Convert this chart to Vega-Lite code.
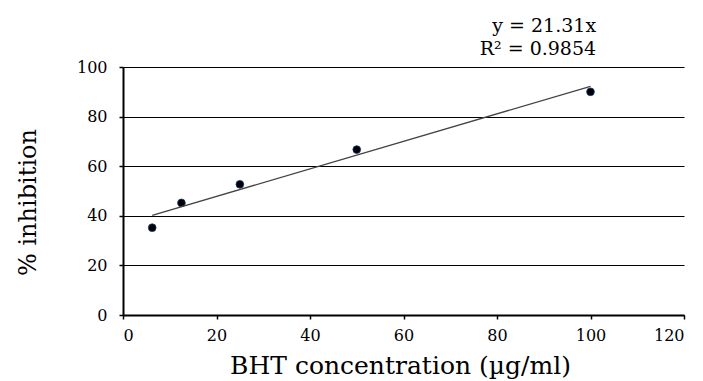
{
  "$schema": "https://vega.github.io/schema/vega-lite/v6.json",
  "autosize": "none",
  "width": 561,
  "height": 248,
  "padding": {"left": 123, "top": 67, "right": 19, "bottom": 66},
  "background": "white",
  "config": {
    "view": {"stroke": null},
    "font": "DejaVu Serif"
  },
  "datasets": {
    "pts": [
      {"conc": 6.25, "inhibition": 35.2},
      {"conc": 12.5, "inhibition": 45.2},
      {"conc": 25, "inhibition": 52.7},
      {"conc": 50, "inhibition": 66.7},
      {"conc": 100, "inhibition": 90.0}
    ],
    "trend": [
      {"conc": 6.25, "inhibition": 40.2},
      {"conc": 100, "inhibition": 92.2}
    ],
    "labels": [
      {"conc": 101.2, "inhibition": 114.1, "text": "y = 21.31x"},
      {"conc": 101.2, "inhibition": 104.8, "text": "R² = 0.9854"}
    ]
  },
  "layer": [
    {
      "data": {"name": "pts"},
      "mark": {"type": "point", "filled": true, "size": 60, "color": "#000000", "stroke": "#1a3a7a", "strokeWidth": 0.8, "opacity": 1},
      "encoding": {
        "x": {
          "field": "conc", "type": "quantitative",
          "scale": {"domain": [0, 120], "nice": false},
          "axis": {
            "title": "BHT concentration (µg/ml)",
            "values": [0, 20, 40, 60, 80, 100, 120],
            "grid": false,
            "domainColor": "#000", "domainWidth": 2,
            "tickColor": "#000", "tickWidth": 1.5, "tickSize": 4,
            "labelFont": "DejaVu Serif", "labelFontSize": 16, "labelColor": "#000", "labelPadding": 8,
            "titleFont": "DejaVu Serif", "titleFontSize": 25, "titleFontWeight": "normal", "titleColor": "#000",
            "titleX": 277, "titleY": 50, "titleBaseline": "middle"
          }
        },
        "y": {
          "field": "inhibition", "type": "quantitative",
          "scale": {"domain": [0, 100], "nice": false},
          "axis": {
            "title": "% inhibition",
            "values": [0, 20, 40, 60, 80, 100],
            "grid": true, "gridColor": "#000", "gridWidth": 1.2, "gridOpacity": 1,
            "domainColor": "#000", "domainWidth": 2,
            "tickColor": "#000", "tickWidth": 1.5, "tickSize": 4,
            "labelFont": "DejaVu Serif", "labelFontSize": 16, "labelColor": "#000", "labelPadding": 12,
            "titleFont": "DejaVu Serif", "titleFontSize": 24, "titleFontWeight": "normal", "titleColor": "#000",
            "titleAngle": -90, "titleX": -95, "titleY": 135, "titleAlign": "center", "titleBaseline": "middle"
          }
        }
      }
    },
    {
      "data": {"name": "trend"},
      "mark": {"type": "line", "color": "#444444", "strokeWidth": 1.3},
      "encoding": {
        "x": {"field": "conc", "type": "quantitative"},
        "y": {"field": "inhibition", "type": "quantitative"}
      }
    },
    {
      "data": {"name": "labels"},
      "mark": {"type": "text", "align": "right", "baseline": "alphabetic", "font": "DejaVu Serif", "fontSize": 19, "color": "#000"},
      "encoding": {
        "x": {"field": "conc", "type": "quantitative"},
        "y": {"field": "inhibition", "type": "quantitative"},
        "text": {"field": "text"}
      }
    }
  ]
}
